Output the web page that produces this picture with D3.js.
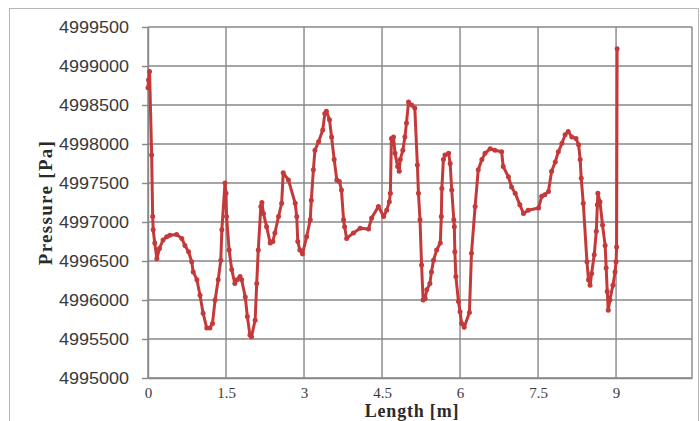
<!DOCTYPE html>
<html>
<head>
<meta charset="utf-8">
<script src="https://cdn.jsdelivr.net/npm/d3@7"></script>
<style>
  body { margin: 0; background: #fff; }
  svg { display: block; }
</style>
</head>
<body>
<div id="chart"></div>
<script>
// values
const lengths = [0.00,0.01,0.03,0.07,0.09,0.10,0.13,0.17,0.22,0.29,0.36,0.42,0.55,0.65,0.71,0.78,0.84,0.87,0.94,1.00,
  1.06,1.13,1.19,1.24,1.29,1.35,1.40,1.42,1.48,1.50,1.51,1.56,1.61,1.67,1.71,1.77,1.80,1.87,1.91,1.96,
  1.99,2.06,2.09,2.12,2.17,2.19,2.22,2.28,2.35,2.40,2.44,2.51,2.57,2.60,2.70,2.83,2.86,2.88,2.92,2.97,
  3.05,3.12,3.14,3.18,3.21,3.28,3.36,3.40,3.43,3.49,3.53,3.58,3.63,3.68,3.72,3.76,3.78,3.82,3.95,4.08,
  4.24,4.30,4.43,4.53,4.59,4.64,4.66,4.68,4.72,4.75,4.80,4.83,4.85,4.90,4.94,4.97,5.01,5.07,5.13,5.18,
  5.20,5.23,5.26,5.29,5.33,5.36,5.42,5.45,5.49,5.55,5.62,5.64,5.65,5.68,5.71,5.78,5.81,5.84,5.88,5.89,
  5.90,5.92,5.97,6.00,6.03,6.08,6.18,6.22,6.29,6.35,6.42,6.48,6.58,6.67,6.80,6.83,6.93,6.99,7.06,7.15,
  7.22,7.31,7.51,7.57,7.63,7.70,7.76,7.83,7.89,7.96,8.02,8.08,8.15,8.23,8.28,8.31,8.33,8.37,8.44,8.47,
  8.50,8.53,8.58,8.62,8.64,8.65,8.69,8.74,8.79,8.81,8.83,8.85,8.88,8.94,8.98,9.00,9.01,9.02];

const pressures = [4998720,4998820,4998930,4997860,4997070,4996900,4996730,4996530,4996660,4996770,4996810,4996830,4996840,4996790,4996700,4996620,4996490,4996360,4996260,4996060,
  4995830,4995640,4995640,4995700,4996000,4996260,4996510,4996900,4997500,4997370,4997070,4996640,4996390,4996210,4996260,4996300,4996260,4996040,4995790,4995550,
  4995530,4995740,4996210,4996640,4997200,4997250,4997110,4996940,4996730,4996750,4996860,4997070,4997240,4997630,4997540,4997240,4997070,4996750,4996640,4996590,
  4996810,4997030,4997280,4997670,4997920,4998030,4998180,4998390,4998420,4998310,4998090,4997800,4997540,4997520,4997410,4997030,4996940,4996790,4996860,4996920,
  4996910,4997050,4997200,4997070,4997150,4997260,4997370,4998070,4998090,4997880,4997710,4997650,4997800,4997920,4998090,4998270,4998540,4998500,4998460,4997730,
  4997370,4997030,4996450,4996000,4996020,4996130,4996210,4996360,4996510,4996640,4996730,4997070,4997430,4997800,4997860,4997880,4997750,4997410,4997030,4996940,
  4996620,4996300,4995980,4995850,4995700,4995650,4995840,4996600,4997200,4997670,4997800,4997880,4997940,4997920,4997900,4997710,4997580,4997450,4997370,4997220,
  4997110,4997150,4997180,4997330,4997350,4997390,4997650,4997770,4997900,4998010,4998120,4998160,4998090,4998070,4997990,4997800,4997560,4997240,4996490,4996260,
  4996190,4996340,4996580,4996880,4997220,4997370,4997260,4996960,4996700,4996410,4996110,4995870,4996000,4996190,4996360,4996490,4996680,4999220];

const xTicks = [0, 1.5, 3, 4.5, 6, 7.5, 9];
const yTicks = [4995000, 4995500, 4996000, 4996500, 4997000, 4997500, 4998000, 4998500, 4999000, 4999500];

const W = 700, H = 421;
const plot = { left: 148, right: 692, top: 27, bottom: 378 };
const red = "#c4393a", grid = "#878787";

const data = lengths.map((l, i) => ({ x: l, y: pressures[i] }));

const svg = d3.select("#chart").append("svg")
  .attr("width", W)
  .attr("height", H);

svg.append("rect")
  .attr("x", 9.5).attr("y", 8.5)
  .attr("width", 689).attr("height", 430)
  .attr("fill", "#fff")
  .attr("stroke", "#b5b5b5");

const x = d3.scaleLinear().domain([0, 10.46]).range([plot.left, plot.right]);
const y = d3.scaleLinear().domain([4995000, 4999500]).range([plot.bottom, plot.top]);

// gridlines
svg.append("g")
  .selectAll("line.h")
  .data(yTicks)
  .join("line")
    .attr("x1", plot.left).attr("x2", plot.right)
    .attr("y1", d => y(d)).attr("y2", d => y(d))
    .attr("stroke", grid).attr("stroke-width", 1.4);

svg.append("g")
  .selectAll("line.v")
  .data(xTicks)
  .join("line")
    .attr("x1", d => x(d)).attr("x2", d => x(d))
    .attr("y1", plot.top).attr("y2", plot.bottom)
    .attr("stroke", grid).attr("stroke-width", 1.4);

svg.append("line")
  .attr("x1", plot.right).attr("x2", plot.right)
  .attr("y1", plot.top).attr("y2", plot.bottom)
  .attr("stroke", grid).attr("stroke-width", 1.4);

// axes
const yAxis = svg.append("g")
  .attr("transform", `translate(${plot.left},0)`)
  .call(d3.axisLeft(y).tickValues(yTicks).tickFormat(d3.format("d"))
    .tickSizeInner(6).tickSizeOuter(0).tickPadding(13));
yAxis.select(".domain").attr("stroke", grid).attr("stroke-width", 1.4);
yAxis.selectAll(".tick line").attr("stroke", grid).attr("stroke-width", 1.4);
yAxis.selectAll("text")
  .style("font-family", "'Liberation Sans', Arial, sans-serif")
  .style("font-size", "17px")
  .attr("fill", "#3a3a3a")
  .attr("textLength", 70)
  .attr("lengthAdjust", "spacingAndGlyphs");

const xAxis = svg.append("g")
  .attr("transform", `translate(0,${plot.bottom})`)
  .call(d3.axisBottom(x).tickValues(xTicks).tickSize(0).tickPadding(9).tickFormat(d3.format("")));
xAxis.select(".domain").attr("stroke", grid).attr("stroke-width", 1.4);
xAxis.selectAll("text")
  .style("font-family", "'Liberation Serif', 'Times New Roman', serif")
  .style("font-size", "15px")
  .attr("fill", "#3a3a3a");

// axis titles
svg.append("text")
  .attr("x", 412).attr("y", 417)
  .attr("text-anchor", "middle")
  .style("font-family", "'Liberation Serif', 'Times New Roman', serif")
  .style("font-size", "18px")
  .style("font-weight", "bold")
  .style("letter-spacing", "0.8px")
  .attr("fill", "#2a2a2a")
  .text("Length [m]");

svg.append("text")
  .attr("transform", `translate(52,${(plot.top + plot.bottom) / 2}) rotate(-90)`)
  .attr("text-anchor", "middle")
  .style("font-family", "'Liberation Serif', 'Times New Roman', serif")
  .style("font-size", "19px")
  .style("font-weight", "bold")
  .style("letter-spacing", "1.3px")
  .attr("fill", "#2a2a2a")
  .text("Pressure [Pa]");

// series
svg.append("path")
  .datum(data)
  .attr("fill", "none")
  .attr("stroke", red)
  .attr("stroke-width", 3)
  .attr("stroke-linejoin", "round")
  .attr("d", d3.line().x(d => x(d.x)).y(d => y(d.y)));

svg.append("g")
  .selectAll("circle")
  .data(data)
  .join("circle")
    .attr("cx", d => x(d.x))
    .attr("cy", d => y(d.y))
    .attr("r", 2.5)
    .attr("fill", red);
</script>
</body>
</html>
